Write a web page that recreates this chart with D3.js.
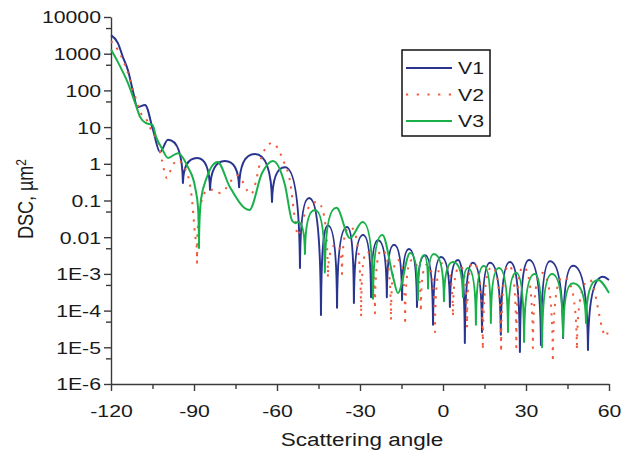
<!DOCTYPE html>
<html>
<head>
<meta charset="utf-8">
<script src="https://cdn.jsdelivr.net/npm/d3@7/dist/d3.min.js"></script>
<style>
  body { margin: 0; background: #fff; }
  svg text { font-family: "Liberation Sans", Arial, sans-serif; fill: #1a1a1a; }
</style>
</head>
<body>
<svg id="chart" width="621" height="454"></svg>
<script>
// values: [scattering angle, DSC in um^2]
const xTicks = [-120, -90, -60, -30, 0, 30, 60];
const xMinor = [-105, -75, -45, -15, 15, 45];
const yTicks = [1e4, 1e3, 100, 10, 1, 0.1, 0.01, 1e-3, 1e-4, 1e-5, 1e-6];
const yTickLabels = ["10000", "1000", "100", "10", "1", "0.1", "0.01", "1E-3", "1E-4", "1E-5", "1E-6"];
const yMinor = [5e3, 500, 50, 5, 0.5, 0.05, 5e-3, 5e-4, 5e-5, 5e-6];
const names = ["V1", "V2", "V3"];
const colors = ["#29348e", "#f15a3a", "#19b04a"];

const v1 = [
  [-120, 3200], [-117.5, 1950], [-115.7, 810], [-113.9, 360], [-112.0, 91], [-110.5, 35],
  [-107.7, 40], [-104.8, 8.3], [-102.3, 2.1], [-99.4, 4.5], [-94.0, 0.30], [-88.9, 1.45],
  [-84.2, 0.195], [-78.8, 1.2], [-73.7, 0.23], [-68.0, 1.86], [-61.8, 0.091], [-57.1, 0.81],
  [-51.7, 0.00145], [-48.4, 0.117], [-44.1, 7.6e-5], [-41.6, 0.021], [-38.3, 1.2e-4],
  [-34.7, 0.019], [-32.2, 1.6e-4], [-28.9, 0.0115], [-26.0, 2.3e-4], [-23.5, 0.0083],
  [-20.3, 2.3e-4], [-17.7, 0.0062], [-14.8, 1.95e-4], [-12.3, 0.0048], [-9.4, 1.26e-4],
  [-6.5, 0.0032], [-3.6, 4.1e-5], [-0.7, 0.0029], [2.5, 1.26e-4], [5.4, 0.0024],
  [7.9, 1.3e-5], [10.8, 0.002], [14.1, 2.6e-5], [17.0, 0.002], [20.9, 2.2e-5],
  [24.2, 0.0021], [27.8, 7.4e-6], [31.1, 0.0024], [35.4, 1.15e-5], [38.7, 0.0022],
  [43.4, 1.8e-5], [47.0, 0.00166], [52.4, 8.5e-6], [57.8, 8.3e-4], [60, 6.8e-4]
];

const v2 = [
  [-120, 2200], [-117.5, 1260], [-115.7, 680], [-113.9, 300], [-111.8, 91], [-109.2, 24],
  [-107.5, 18], [-105.5, 8.3], [-103.0, 3.7], [-101.6, 1.26], [-99.8, 0.41], [-98.0, 0.81],
  [-96.1, 1.26], [-92.5, 0.56], [-90.7, 0.10], [-89.8, 0.016], [-88.9, 0.002], [-87.5, 0.076],
  [-86.8, 0.126], [-85.0, 0.195], [-82.4, 0.195], [-80.6, 0.16], [-74.3, 0.48], [-69.4, 0.15],
  [-65.1, 1.95], [-61.7, 3.7], [-57.8, 1.26], [-55.2, 0.30], [-53.5, 0.030], [-52.4, 0.011],
  [-51.0, 0.028], [-45.6, 0.091], [-41.6, 7.9e-4], [-38.5, 0.0063], [-36.5, 0.001],
  [-33.6, 0.019], [-29.6, 6.8e-5], [-27.5, 0.004], [-24.6, 8.5e-5], [-22.1, 0.0045],
  [-18.8, 5.5e-5], [-16.3, 0.0024], [-13.7, 4.1e-5], [-11.2, 0.0024], [-8.0, 9.1e-5],
  [-5.8, 0.0018], [-2.9, 2.6e-5], [0.0, 0.002], [3.6, 6.8e-5], [6.2, 0.0016], [8.7, 3.5e-5],
  [10.8, 0.002], [14.4, 8.5e-6], [17.7, 0.00155], [21.0, 7.4e-6], [23.8, 0.0017],
  [26.5, 1e-5], [28.9, 0.00155], [32.5, 9.5e-6], [35.8, 0.00107], [39.7, 4e-6],
  [43.4, 8.3e-4], [48.4, 8.5e-6], [53.1, 6.8e-4], [58.9, 2e-5], [60, 3.8e-5]
];

const v3 = [
  [-120, 1300], [-117.5, 590], [-115.7, 316], [-113.9, 160], [-111.3, 46], [-109.5, 19],
  [-107.5, 13], [-105.0, 11.5], [-103.7, 5.4], [-101.7, 2.7], [-99.4, 1.45], [-95.8, 1.95],
  [-92.2, 0.81], [-89.6, 0.23], [-88.2, 0.0051], [-85.3, 0.44], [-81.5, 1.12], [-77.0, 0.23],
  [-70.0, 0.055], [-65.4, 0.56], [-61.5, 1.2], [-57.1, 0.26], [-54.5, 0.028], [-53.3, 0.024],
  [-52.5, 0.026], [-49.9, 0.0035], [-46.3, 0.055], [-42.7, 0.0011], [-38.5, 0.063],
  [-33.6, 0.0095], [-29.1, 0.026], [-25.3, 2.1e-4], [-21.9, 0.0115], [-18.0, 7.9e-4],
  [-16.3, 3.0e-4], [-11.9, 0.0037], [-9.05, 1.95e-4], [-6.9, 0.0032], [-5.4, 4e-4],
  [-3.3, 0.0035], [0.35, 1.8e-4], [3.6, 0.0021], [7.2, 2.3e-4], [9.0, 0.00145],
  [11.9, 4.1e-5], [14.8, 0.00166], [17.3, 4.6e-5], [20.2, 0.00145], [23.5, 2.6e-5],
  [26.4, 0.00107], [29.3, 1.4e-5], [33.2, 0.001], [35.8, 1.0e-5], [39.4, 0.001],
  [43.4, 1.9e-5], [47.0, 5.6e-4], [51.7, 4.6e-5], [56.0, 6.8e-4], [60, 3.0e-4]
];

const series = [v1, v2, v3];

const SX = 1.25; // the picture's lettering is stretched sideways
const svg = d3.select("#chart");
const x = d3.scaleLinear().domain([-120, 60]).range([111, 609]);
const y = d3.scaleLog().domain([1e-6, 1e4]).range([384, 17]);
const axisColor = "#3a3a3a";

// bottom axis
const gx = svg.append("g").attr("transform", "translate(0,384)");
gx.call(d3.axisBottom(x).tickValues(xTicks).tickFormat(d => String(d)).tickSizeInner(7).tickSizeOuter(0));
gx.append("g").call(d3.axisBottom(x).tickValues(xMinor).tickFormat("").tickSizeInner(5).tickSizeOuter(0))
  .select(".domain").remove();
gx.selectAll("text")
  .attr("y", 33).attr("dy", null)
  .attr("transform", `scale(${SX},1)`)
  .style("font-size", "17px").style("font-family", "'Liberation Sans', Arial, sans-serif");

// left axis
const gy = svg.append("g").attr("transform", "translate(111,0)");
gy.call(d3.axisLeft(y).tickValues(yTicks).tickFormat(d => yTickLabels[yTicks.indexOf(d)]).tickSizeInner(7).tickSizeOuter(0));
gy.append("g").call(d3.axisLeft(y).tickValues(yMinor).tickFormat("").tickSizeInner(5).tickSizeOuter(0))
  .select(".domain").remove();
gy.selectAll("text")
  .attr("x", -10 / SX).attr("dy", "0.35em")
  .attr("transform", `scale(${SX},1)`)
  .style("font-size", "17px").style("font-family", "'Liberation Sans', Arial, sans-serif");

svg.selectAll(".domain, .tick line").attr("stroke", axisColor).attr("stroke-width", 1.4);
svg.selectAll(".tick text").attr("fill", "#1a1a1a");

// axis titles
svg.append("text")
  .attr("transform", `translate(362,446) scale(${SX},1)`)
  .attr("text-anchor", "middle").style("font-size", "18px")
  .text("Scattering angle");

const yt = svg.append("text")
  .attr("transform", `translate(33,199) rotate(-90) scale(1,${SX})`)
  .attr("text-anchor", "middle").style("font-size", "18px");
yt.append("tspan").text("DSC, \u00b5m");
yt.append("tspan").attr("dy", "-0.45em").style("font-size", "12px").text("2");

// curve: monotone cubic, but deep minima are drawn as sharp cusps with round tops
function CuspCurve(context) { this._c = context; }
CuspCurve.prototype = {
  areaStart() {}, areaEnd() {},
  lineStart() { this._p = []; },
  point(px, py) { this._p.push([+px, +py]); },
  lineEnd() {
    const p = this._p, n = p.length, c = this._c;
    if (!n) return;
    c.moveTo(p[0][0], p[0][1]);
    if (n === 1) return;
    const sl = i => (p[i + 1][1] - p[i][1]) / (p[i + 1][0] - p[i][0]);
    const cusp = p.map((q, i) => i > 0 && i < n - 1 &&
      q[1] - p[i - 1][1] > 24 && q[1] - p[i + 1][1] > 24);
    const m = p.map((q, i) => {
      if (i === 0 || i === n - 1) return null;
      const h0 = q[0] - p[i - 1][0], h1 = p[i + 1][0] - q[0];
      const s0 = sl(i - 1), s1 = sl(i), pp = (s0 * h1 + s1 * h0) / (h0 + h1);
      return (Math.sign(s0) + Math.sign(s1)) * Math.min(Math.abs(s0), Math.abs(s1), 0.5 * Math.abs(pp)) || 0;
    });
    m[0] = n > 2 ? (3 * sl(0) - m[1]) / 2 : sl(0);
    m[n - 1] = n > 2 ? (3 * sl(n - 2) - m[n - 2]) / 2 : sl(n - 2);
    for (let i = 0; i < n - 1; i++) {
      const [x0, y0] = p[i], [x1, y1] = p[i + 1], dx = x1 - x0, dy = y1 - y0;
      let c1, c2;
      if (cusp[i]) c1 = [x0 + 0.04 * dx, y0 + 0.8 * dy];
      else c1 = [x0 + (cusp[i + 1] ? 0.5 : 1 / 3) * dx, y0 + m[i] * (cusp[i + 1] ? 0.5 : 1 / 3) * dx];
      if (cusp[i + 1]) c2 = [x1 - 0.04 * dx, y1 - 0.8 * dy];
      else c2 = [x1 - (cusp[i] ? 0.5 : 1 / 3) * dx, y1 - m[i + 1] * (cusp[i] ? 0.5 : 1 / 3) * dx];
      c.bezierCurveTo(c1[0], c1[1], c2[0], c2[1], x1, y1);
    }
  }
};
const cuspCurve = ctx => new CuspCurve(ctx);

const line = d3.line().x(d => x(d[0])).y(d => y(d[1])).curve(cuspCurve);

series.forEach((s, i) => {
  const p = svg.append("path")
    .attr("d", line(s))
    .attr("fill", "none")
    .attr("stroke", colors[i])
    .attr("stroke-width", 2)
    .attr("stroke-linejoin", "round");
  if (i === 1) p.attr("stroke-dasharray", "2.2 6.5");
});

// legend
const lg = svg.append("g");
lg.append("rect").attr("x", 402).attr("y", 50).attr("width", 88).attr("height", 86)
  .attr("fill", "#fff").attr("stroke", "#111").attr("stroke-width", 1.5);
names.forEach((n, i) => {
  const ly = 68 + i * 26.5;
  const l = lg.append("line").attr("x1", 406).attr("x2", 452).attr("y1", ly).attr("y2", ly)
    .attr("stroke", colors[i]).attr("stroke-width", 2);
  if (i === 1) l.attr("stroke-dasharray", "2.2 8.5");
  lg.append("text").attr("transform", `translate(458,${ly + 6}) scale(${SX},1)`)
    .style("font-size", "17px").text(n);
});
</script>
</body>
</html>
